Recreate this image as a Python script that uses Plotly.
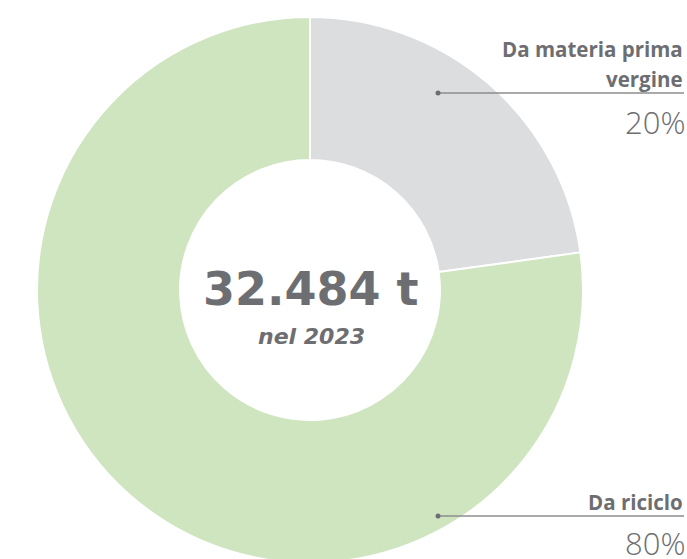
import plotly.graph_objects as go

# Data
categories = ["Da materia prima vergine", "Da riciclo"]
shares = [22.8, 77.2]          # visual share of the ring
pct_labels = ["20%", "80%"]
total_label = "32.484 t"
year_label = "nel 2023"

colors = ["#dcdddf", "#cfe5c0"]
TEXT = "#6d6e71"

W, H = 687, 580
cx, cy, R = 310, 290, 273

def px(x):
    return x / W

def py(y):
    return 1 - y / H

fig = go.Figure()
fig.add_trace(go.Pie(
    labels=categories, values=shares, hole=0.476, sort=False,
    direction="clockwise", rotation=0,
    marker=dict(colors=colors, line=dict(color="white", width=2)),
    textinfo="none", hoverinfo="label+percent", showlegend=False,
    domain=dict(x=[px(cx - R), px(cx + R)], y=[py(cy + R), py(cy - R)]),
))

ann = []
# center text
ann.append(dict(x=px(cx + 1), y=py(289), text=total_label, showarrow=False,
                xanchor="center", yanchor="middle",
                font=dict(family="DejaVu Sans", size=46, color=TEXT, weight=700)))
ann.append(dict(x=px(cx + 1), y=py(336), text=year_label, showarrow=False,
                xanchor="center", yanchor="middle",
                font=dict(family="DejaVu Sans", size=22, color=TEXT, weight=700, style="italic")))

# outside labels
label_specs = [
    (categories[0], ["Da materia prima", "vergine"], [49, 79], 93, pct_labels[0], 122),
    (categories[1], ["Da riciclo"], [502], 516, pct_labels[1], 543),
]
shapes = []
for name, lines, ys, line_y, pct, pct_y in label_specs:
    for t, yy in zip(lines, ys):
        ann.append(dict(x=px(685), y=py(yy), text=t, showarrow=False,
                        xanchor="right", yanchor="middle",
                        font=dict(family="Open Sans", size=20.5, color=TEXT, weight=700)))
    ann.append(dict(x=px(687), y=py(pct_y), text=pct, showarrow=False,
                    xanchor="right", yanchor="middle",
                    font=dict(family="Open Sans", size=31, color=TEXT, weight=300)))
    shapes.append(dict(type="line", xref="paper", yref="paper",
                       x0=px(438), x1=px(684), y0=py(line_y), y1=py(line_y),
                       line=dict(color="#8c8c8e", width=1.5)))
    shapes.append(dict(type="circle", xref="paper", yref="paper",
                       x0=px(435.5), x1=px(440.5), y0=py(line_y - 2.5), y1=py(line_y + 2.5),
                       fillcolor="#6d6e71", line=dict(width=0)))

fig.update_layout(
    width=W, height=H, margin=dict(l=0, r=0, t=0, b=0),
    paper_bgcolor="white", plot_bgcolor="white",
    annotations=ann, shapes=shapes,
)

fig.write_html("out.html", config={"displayModeBar": False},
               post_script="document.body.style.margin='0';document.body.style.overflow='hidden';")
